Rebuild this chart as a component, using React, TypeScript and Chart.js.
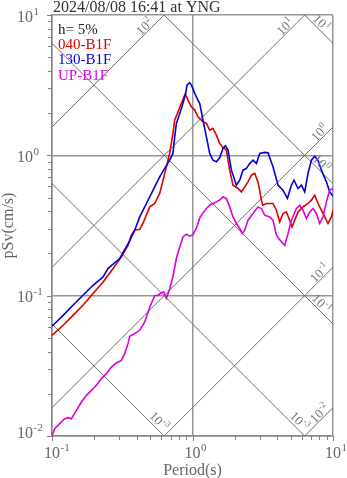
import React, { useEffect, useRef } from 'react';
import { Chart, registerables } from 'chart.js';

Chart.register(...registerables);

const chartTitle = '2024/08/08 16:41 at YNG';
const dampingText = 'h= 5%';
const xAxisTitle = 'Period(s)';
const yAxisTitle = 'pSv(cm/s)';

const seriesNames = ['040-B1F', '130-B1F', 'UP-B1F'];
const seriesColors = ['#dc0000', '#0000dc', '#dc00dc'];

const period040 = [0.1, 0.12, 0.141, 0.166, 0.196, 0.231, 0.272, 0.312, 0.348, 0.367, 0.388, 0.421, 0.444, 0.496, 0.538, 0.584, 0.617, 0.652, 0.688, 0.726, 0.747, 0.789, 0.834, 0.887, 0.929, 0.982, 1.037, 1.094, 1.188, 1.256, 1.326, 1.399, 1.48, 1.561, 1.649, 1.743, 1.84, 1.942, 2.108, 2.229, 2.353, 2.483, 2.626, 2.772, 2.925, 3.093, 3.16, 3.357, 3.741, 3.956, 4.174, 4.407, 4.659, 4.918, 5.107, 5.339, 5.636, 6.116, 6.64, 7.02, 7.411, 7.822, 8.488, 9.213, 9.741, 10];
const sv040 = [0.0522, 0.0615, 0.0724, 0.0854, 0.1035, 0.1252, 0.156, 0.1888, 0.2288, 0.2697, 0.2927, 0.2976, 0.3268, 0.4292, 0.4538, 0.5348, 0.6653, 0.8279, 1.032, 1.433, 1.783, 2.043, 2.345, 2.733, 2.476, 2.218, 2.101, 1.882, 1.734, 1.689, 1.512, 1.556, 1.394, 1.216, 1.138, 1.089, 0.784, 0.6128, 0.5805, 0.5491, 0.5961, 0.6471, 0.7225, 0.7429, 0.6471, 0.4791, 0.4413, 0.4538, 0.4538, 0.4065, 0.3355, 0.3852, 0.3955, 0.345, 0.309, 0.345, 0.3955, 0.4292, 0.4538, 0.4791, 0.5201, 0.4538, 0.3852, 0.3268, 0.3641, 0.4065];

const period130 = [0.1, 0.12, 0.141, 0.166, 0.196, 0.231, 0.25, 0.303, 0.357, 0.388, 0.421, 0.47, 0.524, 0.584, 0.634, 0.688, 0.726, 0.747, 0.768, 0.811, 0.856, 0.894, 0.914, 0.955, 0.982, 1.037, 1.094, 1.125, 1.188, 1.256, 1.326, 1.399, 1.48, 1.561, 1.649, 1.715, 1.789, 1.892, 2.054, 2.168, 2.288, 2.419, 2.553, 2.696, 2.85, 3.009, 3.265, 3.446, 3.741, 4.06, 4.407, 4.736, 5.057, 5.278, 5.636, 5.958, 6.291, 6.64, 7.02, 7.411, 7.822, 8.269, 8.974, 9.474, 10];
const sv130 = [0.0605, 0.0724, 0.0854, 0.1007, 0.1186, 0.136, 0.156, 0.1839, 0.2455, 0.2927, 0.3641, 0.4538, 0.5647, 0.7026, 0.8065, 0.9242, 1.032, 1.355, 1.689, 1.99, 2.345, 2.764, 3.168, 3.29, 3.168, 2.764, 2.476, 2.345, 1.783, 1.355, 1.032, 0.9242, 0.8989, 0.96, 1.12, 1.17, 1.089, 0.784, 0.6128, 0.6653, 0.784, 0.8065, 0.8755, 0.9242, 0.8755, 1.032, 1.05, 1.042, 0.8279, 0.6128, 0.5647, 0.4928, 0.6128, 0.6653, 0.5805, 0.6128, 0.5491, 0.7429, 0.9242, 0.9869, 0.9242, 0.784, 0.6471, 0.5491, 0.5117];

const periodUP = [0.1, 0.1045, 0.1134, 0.1231, 0.13, 0.1374, 0.1492, 0.162, 0.1758, 0.1907, 0.207, 0.2247, 0.2439, 0.2647, 0.2873, 0.3119, 0.3292, 0.3475, 0.3573, 0.3878, 0.4208, 0.4569, 0.4959, 0.5383, 0.5682, 0.6007, 0.6237, 0.6521, 0.6884, 0.7262, 0.768, 0.8109, 0.8557, 0.905, 0.955, 1.008, 1.066, 1.125, 1.188, 1.256, 1.326, 1.399, 1.48, 1.561, 1.649, 1.743, 1.84, 1.942, 2.054, 2.168, 2.265, 2.353, 2.483, 2.696, 2.925, 3.093, 3.265, 3.544, 3.741, 3.956, 4.293, 4.532, 4.783, 5.057, 5.49, 5.794, 6.116, 6.467, 6.828, 7.207, 7.619, 8.043, 8.488, 8.974, 9.474, 10];
const svUP = [0.01, 0.01127, 0.01224, 0.01328, 0.0135, 0.01328, 0.01523, 0.01745, 0.01949, 0.02114, 0.02296, 0.02563, 0.02781, 0.031, 0.03311, 0.03461, 0.03864, 0.04551, 0.05133, 0.05366, 0.05665, 0.06494, 0.0827, 0.0998, 0.1007, 0.1049, 0.1063, 0.0958, 0.112, 0.1376, 0.1848, 0.2225, 0.2623, 0.2742, 0.2653, 0.272, 0.3024, 0.3565, 0.3902, 0.418, 0.4413, 0.4538, 0.4659, 0.4791, 0.5058, 0.4928, 0.4292, 0.3641, 0.3268, 0.301, 0.2773, 0.2927, 0.345, 0.3852, 0.4292, 0.418, 0.3746, 0.3641, 0.345, 0.2697, 0.2415, 0.2288, 0.2773, 0.345, 0.418, 0.4413, 0.4065, 0.3548, 0.3955, 0.418, 0.3852, 0.3268, 0.3641, 0.4659, 0.5647, 0.5805];

const xMajorTicks = [0.1, 1, 10];
const xTickExponents = ['-1', '0', '1'];
const yMajorTicks = [0.01, 0.1, 1, 10];
const yTickExponents = ['-2', '-1', '0', '1'];

// tripartite guide levels: displacement (cm) and acceleration (cm/s2)
const dispLevels = [0.001, 0.01, 0.1, 1, 10];
const dispLabelExps = ['-3', '-3', '-1', '0', '1'];
const accLevels = [0.01, 0.1, 1, 10, 100];
const accLabelExps = ['-2', '-1', '0', '1', '2'];
const guidePeriods = [0.01, 0.1, 1, 10, 100];

const SERIF = '"Liberation Serif", "Times New Roman", serif';

function drawPow(ctx: CanvasRenderingContext2D, x: number, y: number, exp: string, size: number, align: 'left' | 'tenCenter' | 'center') {
  const baseFont = `${size}px ${SERIF}`;
  const supSize = Math.round(size * 0.7);
  const supFont = `${supSize}px ${SERIF}`;
  ctx.font = baseFont;
  const wBase = ctx.measureText('10').width;
  ctx.font = supFont;
  const wExp = ctx.measureText(exp).width;
  let x0 = x;
  if (align === 'tenCenter') x0 = x - wBase / 2;
  else if (align === 'center') x0 = x - (wBase + wExp + 0.5) / 2;
  ctx.textAlign = 'left';
  ctx.textBaseline = 'alphabetic';
  ctx.font = baseFont;
  ctx.fillText('10', x0, y);
  ctx.font = supFont;
  ctx.fillText(exp, x0 + wBase + 0.5, y - size * 0.42);
}

function drawRotatedPow(ctx: CanvasRenderingContext2D, cx: number, cy: number, angle: number, exp: string) {
  ctx.save();
  ctx.translate(cx, cy);
  ctx.rotate(angle);
  const size = 13;
  drawPow(ctx, 0, size * 0.33, exp, size, 'center');
  ctx.restore();
}

const decorPlugin = {
  id: 'decor',
  afterDraw(chart: any) {
    const { ctx, chartArea: a, scales } = chart;
    const xs = scales.x;
    const ys = scales.y;
    ctx.save();

    // outward tick marks
    ctx.strokeStyle = '#808080';
    ctx.lineWidth = 1;
    ctx.beginPath();
    xMajorTicks.forEach((base: number, d: number) => {
      const p = Math.round(xs.getPixelForValue(base)) + 0.5;
      ctx.moveTo(p, a.bottom);
      ctx.lineTo(p, a.bottom + 5);
      if (d < xMajorTicks.length - 1) {
        for (let k = 2; k <= 9; k++) {
          const q = Math.round(xs.getPixelForValue(base * k)) + 0.5;
          ctx.moveTo(q, a.bottom);
          ctx.lineTo(q, a.bottom + 4);
        }
      }
    });
    yMajorTicks.forEach((base: number, d: number) => {
      const p = Math.round(ys.getPixelForValue(base)) + 0.5;
      ctx.moveTo(a.left - 5, p);
      ctx.lineTo(a.left, p);
      if (d < yMajorTicks.length - 1) {
        for (let k = 2; k <= 9; k++) {
          const q = Math.round(ys.getPixelForValue(base * k)) + 0.5;
          ctx.moveTo(a.left - 4, q);
          ctx.lineTo(a.left, q);
        }
      }
    });
    ctx.stroke();

    // tick labels
    ctx.fillStyle = '#666666';
    xMajorTicks.forEach((v: number, i: number) => {
      drawPow(ctx, xs.getPixelForValue(v), a.bottom + 22, xTickExponents[i], 16, 'tenCenter');
    });
    yMajorTicks.forEach((v: number, i: number) => {
      const p = ys.getPixelForValue(v);
      const base = Math.min(Math.max(p + 6.5, a.top + 4), a.bottom + 1.5);
      drawPow(ctx, 17, base, yTickExponents[i], 16, 'left');
    });

    // axis titles
    ctx.font = `16px ${SERIF}`;
    ctx.textAlign = 'center';
    ctx.textBaseline = 'alphabetic';
    ctx.fillText(xAxisTitle, (a.left + a.right) / 2, a.bottom + 38.5);
    ctx.save();
    ctx.translate(13, (a.top + a.bottom) / 2);
    ctx.rotate(-Math.PI / 2);
    ctx.fillText(yAxisTitle, 0, 0);
    ctx.restore();

    // guide-line labels
    ctx.fillStyle = '#777777';
    const Tmax = xs.max;
    const Vmax = ys.max;
    const Vmin = ys.min;
    accLevels.forEach((sa: number, i: number) => {
      const tTop = (2 * Math.PI * Vmax) / sa;
      let ex: number, ey: number, b: number;
      const p = 4;
      if (tTop <= Tmax) {
        ex = xs.getPixelForValue(tTop);
        ey = a.top;
        b = 15.5;
      } else {
        ex = a.right;
        ey = ys.getPixelForValue((sa * Tmax) / (2 * Math.PI));
        b = 9.5;
      }
      drawRotatedPow(ctx, ex - b - p, ey + b - p, -Math.PI / 4, accLabelExps[i]);
    });
    dispLevels.forEach((sd: number, i: number) => {
      const vRight = (2 * Math.PI * sd) / Tmax;
      let ex: number, ey: number, b: number, p: number;
      if (vRight >= Vmin) {
        ex = a.right;
        ey = ys.getPixelForValue(vRight);
        b = 16;
        p = 4.5;
      } else {
        ex = xs.getPixelForValue((2 * Math.PI * sd) / Vmin);
        ey = a.bottom;
        b = 10;
        p = 5;
      }
      drawRotatedPow(ctx, ex - b + p, ey - b - p, Math.PI / 4, dispLabelExps[i]);
    });

    // title
    ctx.fillStyle = '#333333';
    ctx.font = `16px ${SERIF}`;
    ctx.textAlign = 'left';
    ctx.fillText(chartTitle, 53, 12);

    // legend text
    ctx.font = `15px ${SERIF}`;
    ctx.fillStyle = '#222222';
    ctx.fillText(dampingText, 58, 34);
    seriesNames.forEach((name: string, i: number) => {
      ctx.fillStyle = seriesColors[i];
      ctx.fillText(name, 58, 49 + i * 15.3);
    });

    ctx.restore();
  },
};

export default function App() {
  const ref = useRef<HTMLCanvasElement>(null);

  useEffect(() => {
    document.body.style.margin = '0';
    const canvas = ref.current;
    if (!canvas) return;
    const mk = (ts: number[], vs: number[]) => ts.map((t, i) => ({ x: t, y: vs[i] }));
    const guideStyle = { borderColor: '#6e6e6e', borderWidth: 1, pointRadius: 0, order: 10, clip: 0, fill: false };
    const guides = [
      ...accLevels.map((sa) => ({ ...guideStyle, data: guidePeriods.map((t) => ({ x: t, y: (sa * t) / (2 * Math.PI) })) })),
      ...dispLevels.map((sd) => ({ ...guideStyle, data: guidePeriods.map((t) => ({ x: t, y: (2 * Math.PI * sd) / t })) })),
    ];
    const curveStyle = { borderWidth: 1.6, pointRadius: 0, clip: 0, fill: false, tension: 0 };
    const chart = new Chart(canvas, {
      type: 'line',
      data: {
        datasets: [
          ...guides,
          { ...curveStyle, label: seriesNames[0], data: mk(period040, sv040), borderColor: seriesColors[0], order: 3 },
          { ...curveStyle, label: seriesNames[1], data: mk(period130, sv130), borderColor: seriesColors[1], order: 2 },
          { ...curveStyle, label: seriesNames[2], data: mk(periodUP, svUP), borderColor: seriesColors[2], order: 1 },
        ] as any,
      },
      options: {
        responsive: false,
        animation: false,
        devicePixelRatio: 1,
        layout: { padding: { left: 52, top: 15, right: 14, bottom: 42 } },
        plugins: { legend: { display: false }, tooltip: { enabled: false }, title: { display: false } },
        scales: {
          x: {
            type: 'logarithmic',
            min: 0.1,
            max: 10,
            ticks: { display: false },
            grid: { color: '#959595', lineWidth: 1.5, drawTicks: false },
            border: { color: '#888888', width: 1.5 },
            afterBuildTicks: (s: any) => {
              s.ticks = xMajorTicks.map((v) => ({ value: v }));
            },
          },
          y: {
            type: 'logarithmic',
            min: 0.01,
            max: 10,
            ticks: { display: false },
            grid: { color: '#959595', lineWidth: 1.5, drawTicks: false },
            border: { color: '#888888', width: 1.5 },
            afterBuildTicks: (s: any) => {
              s.ticks = yMajorTicks.map((v) => ({ value: v }));
            },
          },
        },
      } as any,
      plugins: [decorPlugin],
    });
    return () => chart.destroy();
  }, []);

  return <canvas ref={ref} width={347} height={478} style={{ display: 'block' }} />;
}
